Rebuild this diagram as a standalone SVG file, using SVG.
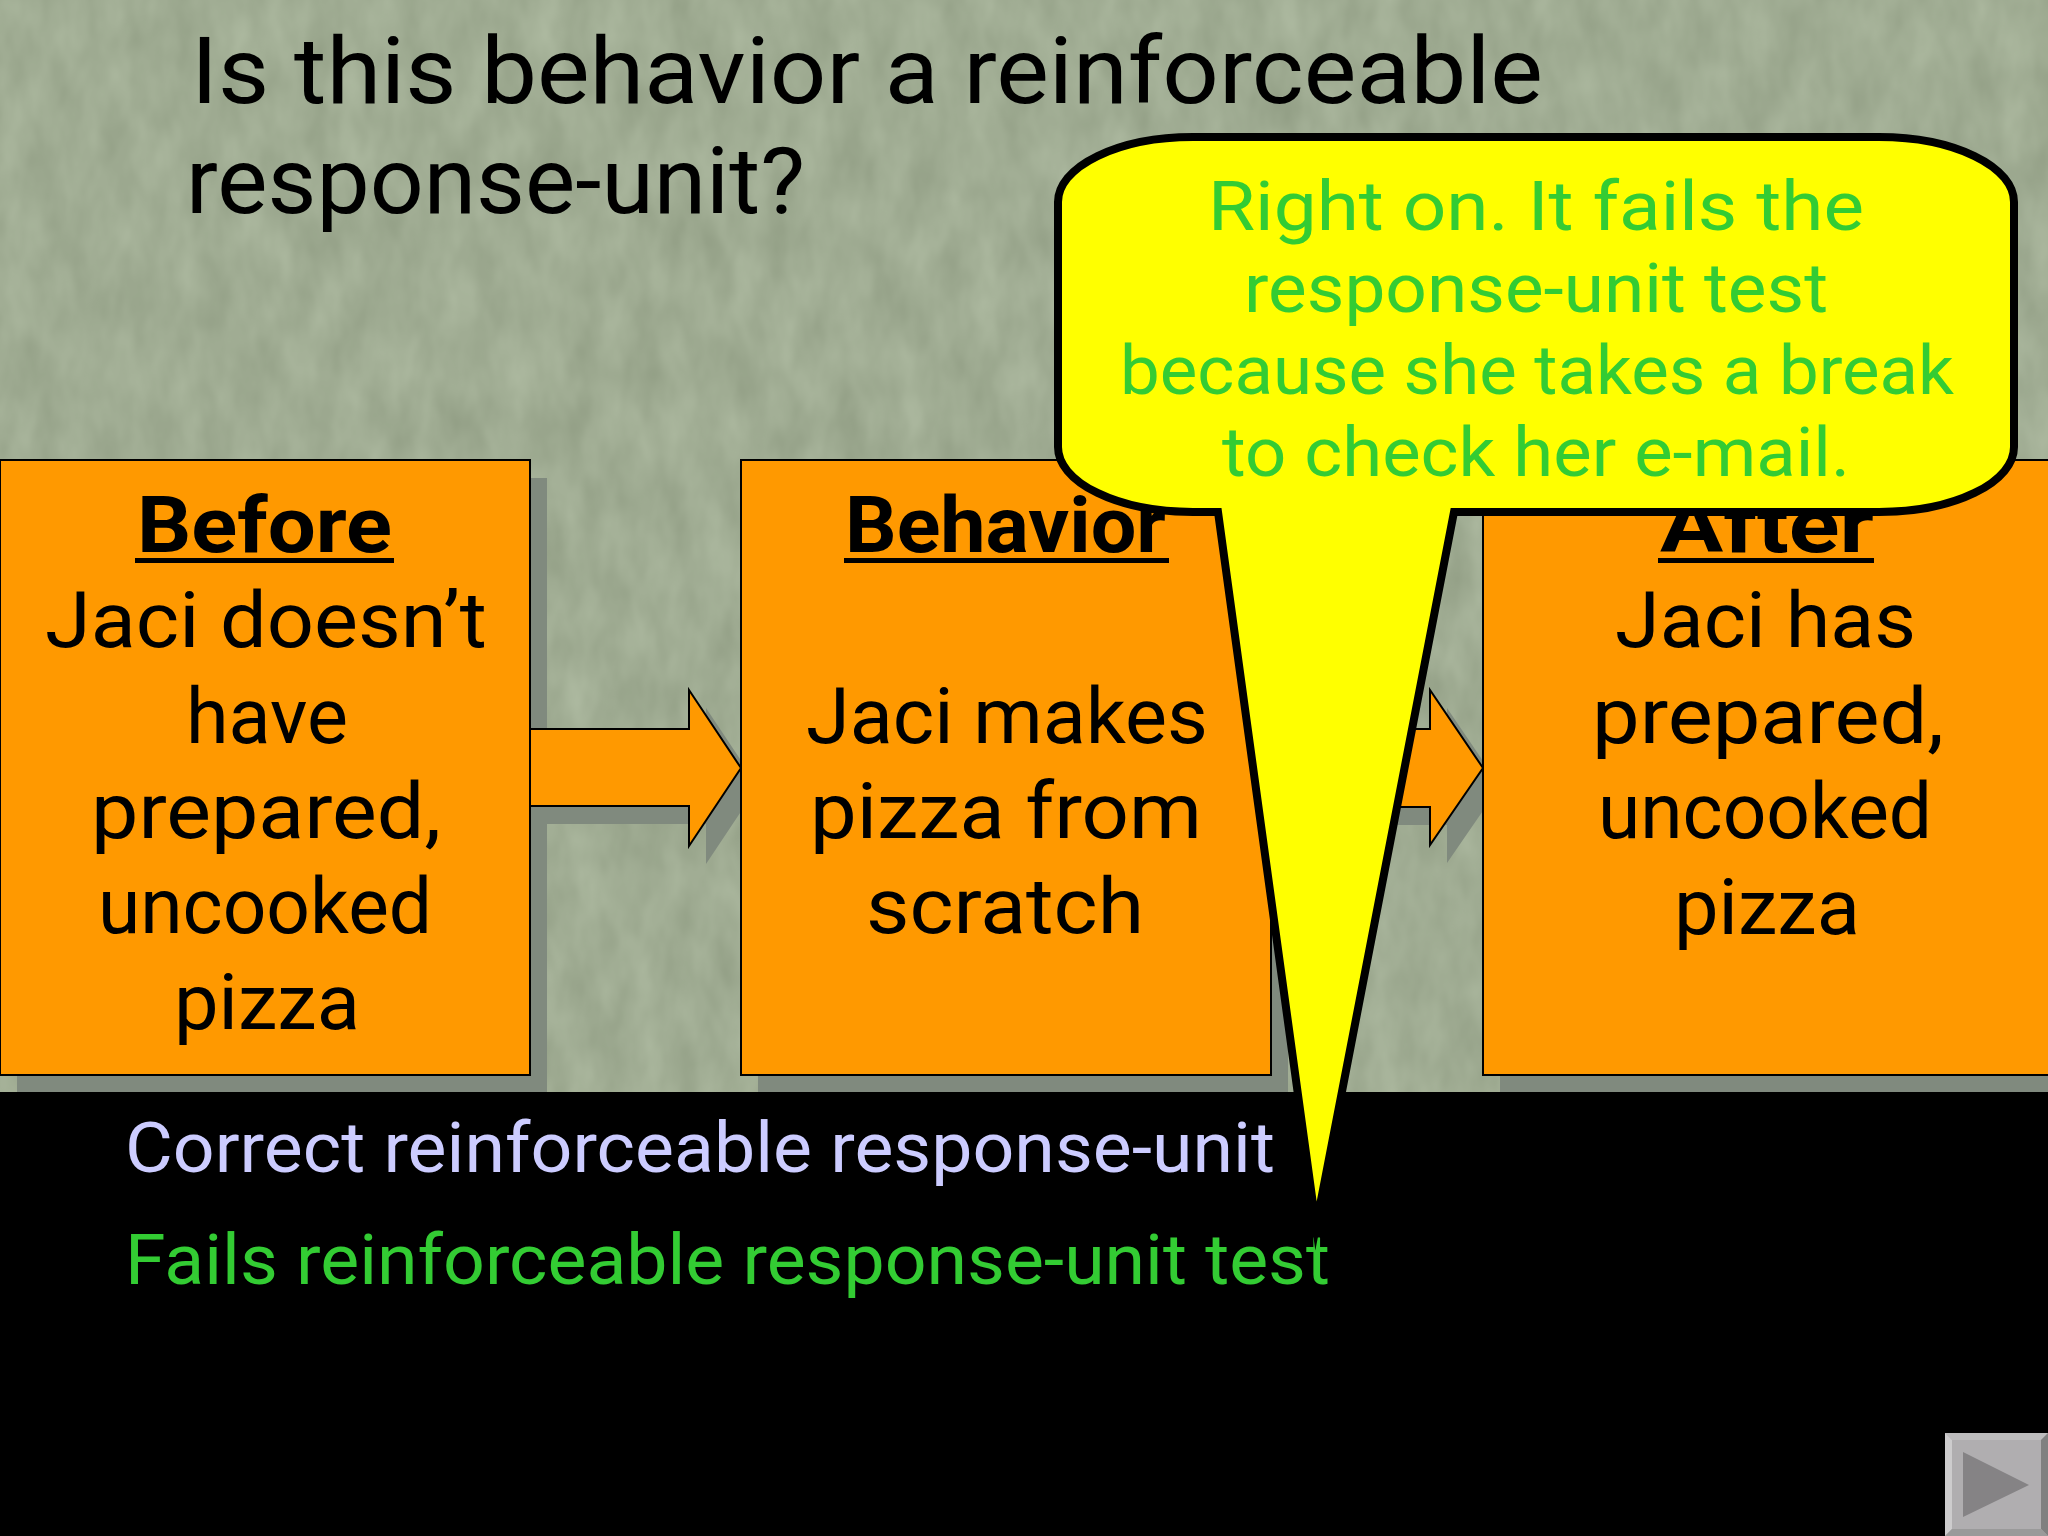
<svg xmlns="http://www.w3.org/2000/svg" width="2048" height="1536" viewBox="0 0 2048 1536">
<defs>
<style>
text{font-family:Roboto,"Noto Sans","Liberation Sans",sans-serif}
.t{font-size:92px;fill:#000}
.b{font-size:78px;fill:#000}
.h{font-size:78px;font-weight:700;fill:#000}
.c{font-size:69px;fill:#33cc33}
.l{font-size:70px}
.box{fill:#ff9900;stroke:#000;stroke-width:2}
.sh{fill:#808a7e}
.ul{fill:#000}
</style>
<filter id="tex" x="0" y="0" width="100%" height="100%" color-interpolation-filters="sRGB">
<feTurbulence type="fractalNoise" baseFrequency="0.03 0.015" numOctaves="3" seed="7"/>
<feColorMatrix type="matrix" values="0.12 0 0 0 0.567  0.12 0 0 0 0.615  0.12 0 0 0 0.516  0 0 0 0 1"/>
</filter>
</defs>
<g id="background">
<rect width="2048" height="1092" fill="#a0ac93"/>
<rect width="2048" height="1092" filter="url(#tex)"/>
<rect y="1092" width="2048" height="444" fill="#000"/>
</g>
<g id="title">
<text class="t" x="191" y="103" textLength="1352" lengthAdjust="spacingAndGlyphs">Is this behavior a reinforceable</text>
<text class="t" x="186" y="213" textLength="619" lengthAdjust="spacingAndGlyphs">response-unit?</text>
</g>
<g id="shadows">
<rect class="sh" x="17" y="478" width="530" height="614"/>
<rect class="sh" x="758" y="478" width="530" height="614"/>
<rect class="sh" x="1500" y="478" width="548" height="614"/>
</g>
<g id="connectors">
<polygon class="sh" points="547,747 706,747 706,708 758,786 706,864 706,824 547,824"/>
<polygon class="sh" points="1288,747 1447,747 1447,708 1500,786 1447,863 1447,825 1288,825"/>
<polygon fill="#ff9900" stroke="#000" stroke-width="2" points="530,729 689,729 689,690 741,768 689,846 689,806 530,806"/>
<polygon fill="#ff9900" stroke="#000" stroke-width="2" points="1271,729 1430,729 1430,690 1483,768 1430,845 1430,807 1271,807"/>
</g>
<g id="before">
<rect class="box" x="0" y="460" width="530" height="615"/>
<text class="h" x="137" y="552" textLength="255" lengthAdjust="spacingAndGlyphs">Before</text>
<rect class="ul" x="135" y="558" width="259" height="5"/>
<text class="b" x="45" y="647" textLength="442" lengthAdjust="spacingAndGlyphs">Jaci doesn’t</text>
<text class="b" x="186" y="743" textLength="162" lengthAdjust="spacingAndGlyphs">have</text>
<text class="b" x="91" y="838" textLength="350" lengthAdjust="spacingAndGlyphs">prepared,</text>
<text class="b" x="98" y="933" textLength="334" lengthAdjust="spacingAndGlyphs">uncooked</text>
<text class="b" x="174" y="1029" textLength="186" lengthAdjust="spacingAndGlyphs">pizza</text>
</g>
<g id="behavior">
<rect class="box" x="741" y="460" width="530" height="615"/>
<text class="h" x="845" y="552" textLength="321" lengthAdjust="spacingAndGlyphs">Behavior</text>
<rect class="ul" x="844" y="558" width="325" height="5"/>
<text class="b" x="806" y="743" textLength="402" lengthAdjust="spacingAndGlyphs">Jaci makes</text>
<text class="b" x="810" y="838" textLength="392" lengthAdjust="spacingAndGlyphs">pizza from</text>
<text class="b" x="866" y="933" textLength="278" lengthAdjust="spacingAndGlyphs">scratch</text>
</g>
<g id="after">
<rect class="box" x="1483" y="460" width="566" height="615"/>
<text class="h" x="1660" y="552" textLength="214" lengthAdjust="spacingAndGlyphs">After</text>
<rect class="ul" x="1658" y="558" width="216" height="5"/>
<text class="b" x="1615" y="647" textLength="301" lengthAdjust="spacingAndGlyphs">Jaci has</text>
<text class="b" x="1592" y="743" textLength="352" lengthAdjust="spacingAndGlyphs">prepared,</text>
<text class="b" x="1598" y="838" textLength="334" lengthAdjust="spacingAndGlyphs">uncooked</text>
<text class="b" x="1674" y="934" textLength="186" lengthAdjust="spacingAndGlyphs">pizza</text>
</g>
<g id="legend">
<text class="l" fill="#ccccff" x="125" y="1172" textLength="1150" lengthAdjust="spacingAndGlyphs">Correct reinforceable response-unit</text>
<text class="l" fill="#33cc33" x="125" y="1284" textLength="1205" lengthAdjust="spacingAndGlyphs">Fails reinforceable response-unit test</text>
</g>
<g id="callout">
<path fill="#ffff00" stroke="#000" stroke-width="8" stroke-linejoin="miter" stroke-miterlimit="20" d="M1193,137 H1879 A135,65 0 0 1 2014,202 V447 A135,65 0 0 1 1879,512 H1454 L1316,1226 L1218,512 H1193 A135,65 0 0 1 1058,447 V202 A135,65 0 0 1 1193,137 Z"/>
<text class="c" x="1208" y="230" textLength="656" lengthAdjust="spacingAndGlyphs">Right on. It fails the</text>
<text class="c" x="1244" y="312" textLength="584" lengthAdjust="spacingAndGlyphs">response-unit test</text>
<text class="c" x="1120" y="394" textLength="834" lengthAdjust="spacingAndGlyphs">because she takes a break</text>
<text class="c" x="1222" y="476" textLength="628" lengthAdjust="spacingAndGlyphs">to check her e-mail.</text>
</g>
<g id="next-button">
<rect x="1945" y="1433" width="103" height="103" fill="#b0aeb0"/>
<polygon points="1945,1433 2048,1433 2041,1440 1952,1440" fill="#bdbcbd"/>
<polygon points="1945,1433 1952,1440 1952,1529 1945,1536" fill="#cdcccd"/>
<polygon points="2048,1433 2048,1536 2041,1529 2041,1440" fill="#808080"/>
<polygon points="1945,1536 2048,1536 2041,1529 1952,1529" fill="#9a9a9a"/>
<polygon points="1963,1452 2029,1485 1963,1517" fill="#858385"/>
</g>
</svg>
